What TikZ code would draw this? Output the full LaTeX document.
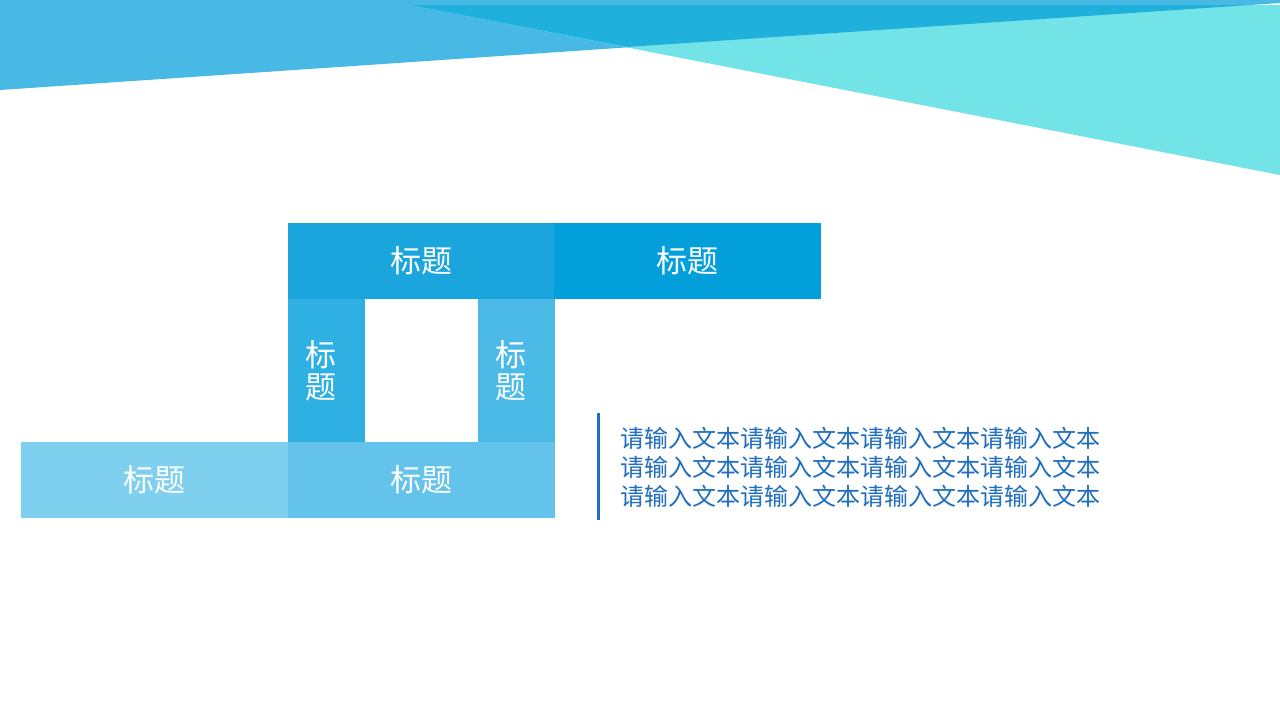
\documentclass[tikz,border=0pt]{standalone}
\usepackage{fontspec}
\setmainfont{Noto Sans CJK SC}
\usepackage{tikz}
\definecolor{bandblue}{HTML}{48B8E4}
\definecolor{bandcyan}{HTML}{72E4E8}
\definecolor{banddark}{HTML}{20B0DC}
\definecolor{boxa}{HTML}{1BA5DD}
\definecolor{boxb}{HTML}{039FDB}
\definecolor{boxc}{HTML}{2FB0E2}
\definecolor{boxd}{HTML}{4BBAE6}
\definecolor{boxe}{HTML}{7FCFEE}
\definecolor{boxf}{HTML}{63C3EA}
\definecolor{bodyblue}{HTML}{1F6EC0}
\tikzset{
	wide/.style 2 args={rectangle,inner sep=0pt,fill=#1,draw=#1,line width=0.8pt,minimum width=266pt,minimum height=75pt,text=white,font=\fontsize{31}{36}\selectfont,name=#2},
	tall/.style 2 args={rectangle,inner sep=0pt,fill=#1,draw=#1,line width=0.8pt,minimum width=76pt,minimum height=144pt,name=#2},
	vtext/.style={text=white,align=center,inner sep=0pt,font=\fontsize{31}{32}\selectfont}
}

\begin{document}
\begin{tikzpicture}[x=1pt,y=-1pt]
						\useasboundingbox (0,0) rectangle (1280,720);
						\fill [white] (0,0) rectangle (1280,720);
						
						\fill [bandblue] (0,0) -- (1280,0) -- (1280,3) -- (0,90) -- cycle;
						\fill [bandcyan] (410,5) -- (1280,5) -- (1280,175) -- cycle;
						\fill [banddark] (410,5) -- (1250,5) -- (627,47) -- cycle;
						
						\node [tall={boxc}{left}] at (326,370) {};
						\node [tall={boxd}{right}] at (516,370) {};
						\node [wide={boxa}{top1}] at (421,260.5) {标题};
						\node [wide={boxb}{top2}] at (687.5,260.5) {标题};
						\node [wide={boxe}{low1}] at (154.5,480) {标题};
						\node [wide={boxf}{low2}] at (421,480) {标题};
						\node [vtext] (lefttext) at (321,371) {标\\题};
						\node [vtext] (righttext) at (511,371) {标\\题};
						
						\fill [bodyblue] (597,413) rectangle (600,520);
						\node [anchor=west,align=left,inner sep=0pt,text=bodyblue,font=\fontsize{24}{29}\selectfont] (body) at (620,467) {请输入文本请输入文本请输入文本请输入文本\\请输入文本请输入文本请输入文本请输入文本\\请输入文本请输入文本请输入文本请输入文本};
					\end{tikzpicture}
\end{document}
